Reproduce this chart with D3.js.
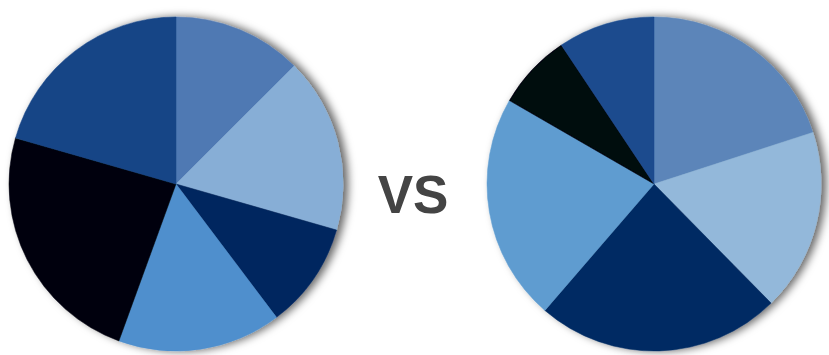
<!DOCTYPE html>
<html><head><meta charset="utf-8">
<script src="https://cdn.jsdelivr.net/npm/d3@7"></script>
<style>html,body{margin:0;padding:0;background:#fff;overflow:hidden}</style>
</head><body>
<script>
const categories = ["A","B","C","D","E","F"];
const leftValues = [45, 61, 37, 57, 86, 74];
const rightValues = [72, 63.5, 85.3, 79.2, 26.3, 33.7];
const leftColors = ["#5079b3","#87aed6","#04275e","#4f8fcd","#02060e","#164486"];
const rightColors = ["#5b85b9","#93b8da","#062c63","#5e9cd0","#020711","#1b4b8e"];
const label = "VS";

const W = 829, H = 355;
const svg = d3.select("body").append("svg").attr("width", W).attr("height", H);
const defs = svg.append("defs");
const f = defs.append("filter").attr("id","sh").attr("x","-20%").attr("y","-20%").attr("width","140%").attr("height","140%");
f.append("feDropShadow").attr("dx",5).attr("dy",0).attr("stdDeviation",4).attr("flood-color","#000").attr("flood-opacity",0.6);
const b = defs.append("filter").attr("id","bl");
b.append("feGaussianBlur").attr("stdDeviation",0.7);

const pie = d3.pie().sort(null).value(d => d);
const arc = d3.arc().innerRadius(0).outerRadius(167);

function drawPie(cx, cy, values, colors) {
  const g = svg.append("g").attr("transform", `translate(${cx},${cy})`).attr("filter","url(#sh)");
  const inner = g.append("g").attr("filter","url(#bl)");
  inner.selectAll("path").data(pie(values)).join("path")
    .attr("d", arc).attr("fill", (d,i) => colors[i])
    .attr("stroke", (d,i) => colors[i]).attr("stroke-width", 0.5);
}
drawPie(176, 184, leftValues, leftColors);
drawPie(654, 184, rightValues, rightColors);

svg.append("text").attr("x", 413).attr("y", 213).attr("text-anchor","middle")
  .attr("font-family","Liberation Sans, Arial, sans-serif").attr("font-weight","bold")
  .attr("font-size", 53).attr("fill","#444").text(label);
</script>
</body></html>
